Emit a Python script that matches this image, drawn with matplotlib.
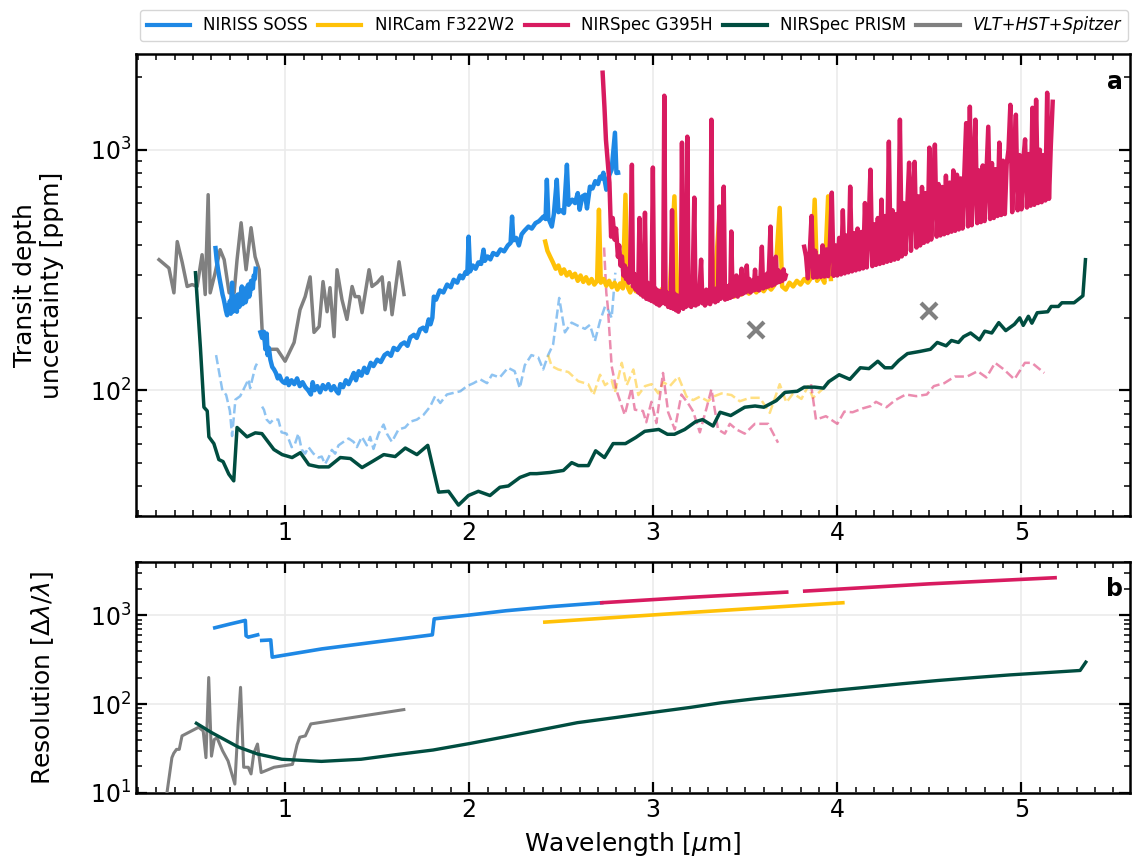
import numpy as np
import matplotlib
matplotlib.use("Agg")
import matplotlib.pyplot as plt
from matplotlib.lines import Line2D
from matplotlib.ticker import MultipleLocator, LogLocator, NullFormatter

# ---------------- colours ----------------
C_SOSS = "#1E88E5"
C_F322 = "#FFC107"
C_G395 = "#D81B60"
C_PRISM = "#004D40"
C_ARCH = "#808080"

# ---------------- panel a: transit depth uncertainty ----------------
arch_x = [0.315, 0.369, 0.396, 0.414, 0.441, 0.468, 0.495, 0.522, 0.549, 0.566, 0.582, 0.593, 0.620,
          0.647, 0.669, 0.696, 0.723, 0.739, 0.761, 0.788, 0.815, 0.837, 0.859, 0.875, 0.902, 0.919,
          0.957, 1.000, 1.049, 1.081, 1.109, 1.136, 1.157, 1.185, 1.206, 1.228, 1.244, 1.266, 1.282,
          1.309, 1.336, 1.364, 1.380, 1.402, 1.418, 1.456, 1.472, 1.500, 1.527, 1.543, 1.565, 1.581,
          1.619, 1.646]
arch_y = [349, 322, 254, 415, 340, 270, 275, 270, 366, 250, 650, 254, 308,
          384, 349, 254, 254, 349, 497, 317, 474, 359, 317, 179, 143, 148,
          148, 132, 158, 216, 245, 296, 174, 184, 283, 212, 267, 167, 317,
          238, 197, 270, 245, 245, 210, 317, 270, 280, 296, 216, 280, 206,
          342, 250]

spitzer_x = [3.56, 4.50]
spitzer_y = [178, 214]

soss2_x = [0.622, 0.628, 0.635, 0.641, 0.648, 0.654, 0.660, 0.666, 0.672, 0.678, 0.685, 0.690,
           0.695, 0.700, 0.705, 0.712, 0.716, 0.720, 0.725, 0.730, 0.734, 0.738, 0.743, 0.747,
           0.751, 0.755, 0.760, 0.765, 0.769, 0.772, 0.776, 0.780, 0.785, 0.790, 0.795, 0.800,
           0.805, 0.810, 0.815, 0.820, 0.825, 0.830, 0.835, 0.840]
soss2_y = [390, 350, 320, 300, 280, 265, 250, 240, 228, 215, 205, 225,
           215, 235, 208, 280, 212, 240, 215, 245, 222, 212, 250, 240,
           222, 225, 255, 270, 228, 230, 265, 262, 232, 240, 270, 275,
           245, 255, 285, 280, 265, 300, 290, 320]

soss1_x = [0.866, 0.875, 0.885, 0.893, 0.900, 0.905, 0.912, 0.920, 0.930, 0.940, 0.950, 0.960,
           0.970, 0.980, 0.990, 1.000, 1.010, 1.020, 1.035, 1.050, 1.065, 1.080, 1.095, 1.110,
           1.125, 1.140, 1.150, 1.160, 1.175, 1.190, 1.205, 1.220, 1.235, 1.250, 1.265, 1.280,
           1.290, 1.300, 1.315, 1.330, 1.345, 1.360, 1.373, 1.385, 1.400, 1.415, 1.430, 1.445,
           1.465, 1.480, 1.500, 1.520, 1.540, 1.557, 1.575, 1.590, 1.610, 1.630, 1.648, 1.665,
           1.680, 1.700, 1.715, 1.733, 1.750, 1.765, 1.780, 1.790, 1.800, 1.808, 1.820, 1.840,
           1.860, 1.880, 1.900, 1.916, 1.935, 1.950, 1.965, 1.980, 1.990, 1.997, 2.005, 2.020,
           2.035, 2.050, 2.065, 2.078, 2.085, 2.100, 2.115, 2.130, 2.151, 2.170, 2.190, 2.210,
           2.225, 2.233, 2.240, 2.255, 2.270, 2.285, 2.300, 2.322, 2.340, 2.360, 2.380, 2.403,
           2.415, 2.422, 2.430, 2.449, 2.460, 2.476, 2.485, 2.500, 2.515, 2.531, 2.540, 2.548,
           2.560, 2.575, 2.590, 2.600, 2.615, 2.630, 2.640, 2.656, 2.670, 2.685, 2.700, 2.711,
           2.720, 2.729, 2.745, 2.760, 2.774, 2.792, 2.800, 2.809]
soss1_y = [174, 165, 175, 148, 172, 140, 150, 134, 125, 122, 118, 112,
           115, 110, 108, 107, 112, 105, 110, 106, 112, 104, 108, 103,
           100, 96, 108, 100, 104, 98, 105, 101, 106, 100, 104, 99,
           97, 106, 103, 110, 106, 112, 118, 110, 120, 115, 124, 118,
           130, 126, 134, 131, 140, 143, 139, 150, 147, 155, 158, 153,
           166, 170, 165, 179, 182, 176, 197, 188, 200, 245, 238, 260,
           255, 275, 268, 288, 280, 300, 292, 310, 305, 435, 312, 330,
           320, 340, 335, 384, 345, 360, 350, 372, 365, 385, 378, 400,
           410, 527, 420, 430, 400, 445, 460, 479, 470, 495, 505, 527,
           515, 750, 520, 479, 540, 750, 550, 560, 545, 866, 590, 602,
           620, 600, 660, 563, 640, 650, 570, 702, 690, 740, 720, 772,
           760, 802, 682, 780, 826, 1177, 800, 802]

f322_x = [2.413, 2.425, 2.440, 2.455, 2.470, 2.485, 2.500, 2.515, 2.530, 2.545, 2.560, 2.575,
          2.590, 2.605, 2.620, 2.635, 2.650, 2.665, 2.680, 2.695, 2.705, 2.715, 2.730, 2.745,
          2.760, 2.775, 2.790, 2.805, 2.820, 2.835, 2.849, 2.860, 2.875, 2.890, 2.905, 2.920,
          2.935, 2.950, 2.965, 2.980, 2.995, 3.010, 3.030, 3.050, 3.070, 3.090, 3.115, 3.130,
          3.150, 3.170, 3.190, 3.210, 3.230, 3.250, 3.270, 3.290, 3.310, 3.330, 3.363, 3.380,
          3.400, 3.420, 3.440, 3.460, 3.480, 3.500, 3.520, 3.540, 3.560, 3.580, 3.600, 3.620,
          3.640, 3.660, 3.687, 3.700, 3.720, 3.740, 3.760, 3.780, 3.800, 3.820, 3.840, 3.860,
          3.877, 3.890, 3.910, 3.930, 3.950, 3.965]
f322_y = [415, 380, 359, 340, 320, 330, 305, 318, 300, 310, 295, 305,
          285, 300, 282, 295, 278, 290, 275, 285, 563, 280, 290, 272,
          285, 268, 280, 262, 278, 265, 650, 270, 255, 275, 258, 268,
          250, 262, 255, 265, 250, 262, 252, 265, 250, 260, 640, 255,
          248, 262, 250, 258, 245, 255, 248, 260, 245, 255, 580, 250,
          240, 255, 245, 258, 250, 262, 252, 265, 255, 268, 258, 272,
          262, 275, 573, 270, 262, 280, 270, 285, 275, 290, 280, 295,
          620, 285, 300, 280, 640, 290]

nrs1_x = [2.725, 2.728, 2.735, 2.743, 2.752, 2.762, 2.771, 2.780, 2.790, 2.798, 2.808, 2.815,
          2.822, 2.830, 2.838, 2.845, 2.852, 2.860, 2.867, 2.874, 2.884, 2.890, 2.897, 2.904,
          2.911, 2.918, 2.925, 2.932, 2.939, 2.946, 2.955, 2.962, 2.969, 2.976, 2.983, 2.990,
          2.998, 3.005, 3.012, 3.019, 3.026, 3.033, 3.040, 3.047, 3.054, 3.060, 3.067, 3.074,
          3.081, 3.088, 3.095, 3.102, 3.109, 3.116, 3.123, 3.130, 3.137, 3.143, 3.150, 3.156,
          3.163, 3.170, 3.177, 3.185, 3.192, 3.199, 3.206, 3.213, 3.223, 3.230, 3.237, 3.244,
          3.251, 3.260, 3.267, 3.274, 3.281, 3.288, 3.295, 3.302, 3.309, 3.316, 3.323, 3.330,
          3.337, 3.344, 3.351, 3.359, 3.366, 3.373, 3.383, 3.390, 3.397, 3.404, 3.411, 3.418,
          3.424, 3.431, 3.438, 3.445, 3.452, 3.459, 3.466, 3.473, 3.480, 3.487, 3.494, 3.501,
          3.508, 3.515, 3.522, 3.529, 3.536, 3.545, 3.553, 3.560, 3.567, 3.575, 3.583, 3.590,
          3.597, 3.604, 3.611, 3.618, 3.625, 3.637, 3.644, 3.651, 3.658, 3.666, 3.673, 3.680,
          3.687, 3.694, 3.701, 3.708, 3.715, 3.720]
nrs1_y = [2090, 1900, 1500, 1100, 900, 729, 435, 520, 423, 470, 359, 400,
          330, 360, 300, 330, 290, 320, 280, 310, 866, 270, 305, 262,
          300, 255, 520, 250, 290, 245, 547, 240, 280, 238, 270, 235,
          843, 232, 265, 228, 260, 225, 258, 230, 262, 1677, 228, 255,
          222, 250, 220, 560, 218, 252, 215, 248, 212, 245, 220, 1070,
          218, 250, 222, 1133, 225, 255, 222, 250, 632, 225, 255, 228,
          260, 349, 230, 258, 225, 262, 230, 255, 228, 1333, 235, 262,
          232, 265, 235, 580, 240, 268, 702, 238, 270, 240, 272, 242,
          457, 245, 275, 248, 300, 245, 278, 250, 320, 252, 282, 255,
          330, 258, 290, 255, 285, 260, 317, 262, 292, 260, 300, 395,
          265, 300, 268, 305, 270, 479, 272, 310, 275, 359, 280, 315,
          282, 310, 285, 318, 290, 300]

nrs2_x = [3.82, 3.83, 3.84, 3.85, 3.86, 3.87, 3.88, 3.89, 3.90, 3.91, 3.92, 3.93,
          3.94, 3.95, 3.96, 3.97, 3.98, 3.99, 4.00, 4.01, 4.02, 4.03, 4.04, 4.05,
          4.06, 4.07, 4.08, 4.09, 4.10, 4.11, 4.12, 4.13, 4.14, 4.15, 4.16, 4.17,
          4.18, 4.19, 4.20, 4.21, 4.22, 4.23, 4.24, 4.25, 4.26, 4.27, 4.28, 4.29,
          4.30, 4.31, 4.32, 4.33, 4.34, 4.35, 4.36, 4.37, 4.38, 4.39, 4.40, 4.41,
          4.42, 4.43, 4.44, 4.45, 4.46, 4.47, 4.48, 4.49, 4.50, 4.51, 4.52, 4.53,
          4.54, 4.55, 4.56, 4.57, 4.58, 4.59, 4.60, 4.61, 4.62, 4.63, 4.64, 4.65,
          4.66, 4.67, 4.68, 4.69, 4.70, 4.71, 4.72, 4.73, 4.74, 4.75, 4.76, 4.77,
          4.78, 4.79, 4.80, 4.81, 4.82, 4.83, 4.84, 4.85, 4.86, 4.87, 4.88, 4.89,
          4.90, 4.91, 4.92, 4.93, 4.94, 4.95, 4.96, 4.97, 4.98, 4.99, 5.00, 5.01,
          5.02, 5.03, 5.04, 5.05, 5.06, 5.07, 5.08, 5.09, 5.10, 5.11, 5.12, 5.13,
          5.14, 5.15, 5.16, 5.17]
nrs2_y = [395, 360, 292, 370, 530, 294, 380, 295, 360, 296, 400, 297,
          385, 298, 410, 663, 299, 400, 300, 430, 303, 560, 306, 440,
          309, 702, 312, 450, 315, 470, 318, 455, 321, 600, 324, 480,
          826, 328, 490, 332, 520, 335, 620, 338, 530, 342, 1080, 345,
          560, 349, 540, 352, 1333, 360, 600, 368, 580, 883, 380, 620,
          890, 392, 640, 400, 700, 410, 660, 415, 1020, 423, 690, 1050,
          435, 720, 440, 700, 445, 780, 450, 730, 456, 820, 460, 787,
          466, 760, 470, 800, 1290, 480, 1509, 485, 780, 1333, 495, 820,
          500, 860, 505, 800, 1246, 515, 880, 520, 830, 530, 1070, 535,
          900, 540, 870, 1000, 1537, 550, 920, 1398, 560, 950, 565, 900,
          1104, 575, 960, 585, 1494, 590, 1614, 600, 1000, 605, 950, 615,
          1725, 625, 1050, 1582]

prism_x = [0.513, 0.540, 0.559, 0.577, 0.586, 0.613, 0.640, 0.663, 0.694, 0.721, 0.739, 0.793,
           0.838, 0.874, 0.939, 0.984, 1.038, 1.083, 1.129, 1.183, 1.237, 1.300, 1.355, 1.418,
           1.473, 1.536, 1.598, 1.653, 1.716, 1.775, 1.834, 1.888, 1.942, 1.996, 2.050, 2.113,
           2.167, 2.213, 2.276, 2.331, 2.367, 2.439, 2.512, 2.557, 2.593, 2.647, 2.687, 2.735,
           2.782, 2.849, 2.905, 2.954, 3.030, 3.077, 3.115, 3.171, 3.230, 3.268, 3.325, 3.363,
           3.421, 3.497, 3.553, 3.601, 3.668, 3.716, 3.782, 3.820, 3.877, 3.925, 3.953, 4.010,
           4.068, 4.125, 4.172, 4.220, 4.258, 4.296, 4.334, 4.381, 4.449, 4.506, 4.543, 4.591,
           4.620, 4.658, 4.686, 4.724, 4.772, 4.801, 4.839, 4.877, 4.915, 4.962, 4.991, 5.010,
           5.038, 5.057, 5.086, 5.143, 5.162, 5.201, 5.220, 5.286, 5.334, 5.348]
prism_y = [308, 150, 85, 82, 64, 60, 51.5, 50.5, 44.8, 42, 70, 64,
           66.5, 66, 56.7, 54, 52.5, 55, 49, 48, 48, 52.5, 52, 47.7,
           50.5, 54, 53, 57.5, 54, 59, 37.7, 38, 33.3, 36.5, 38, 36.5,
           39.5, 40, 43.4, 45, 45, 45.5, 46.4, 50, 48.6, 48.6, 56, 52.5,
           60, 60, 63.6, 67.5, 68.7, 65.6, 65.6, 68.7, 74, 75.5, 71, 81,
           78.5, 85, 86, 85, 90.5, 98, 99, 103, 103, 102, 108.5, 116,
           111, 124, 123, 132, 124, 124, 133, 142, 145, 148, 158, 153,
           161, 158, 167, 173, 162, 176, 173, 191, 177, 188, 200, 186,
           203, 190, 210, 212, 223, 223, 231, 231, 247, 349]

# binned (dashed) curves
soss2b_x = [0.625, 0.658, 0.680, 0.700, 0.712, 0.730, 0.756, 0.783, 0.801, 0.810, 0.838, 0.847]
soss2b_y = [140, 101, 95.5, 82, 64.5, 91.4, 94.5, 104, 111, 102, 125, 129]

soss1b_x = [0.875, 0.885, 0.900, 0.918, 0.936, 0.963, 0.981, 1.008, 1.036, 1.054, 1.072, 1.090,
            1.109, 1.127, 1.154, 1.181, 1.199, 1.217, 1.236, 1.254, 1.272, 1.290, 1.317, 1.345,
            1.372, 1.390, 1.417, 1.444, 1.462, 1.480, 1.508, 1.535, 1.553, 1.580, 1.616, 1.652,
            1.680, 1.716, 1.752, 1.788, 1.815, 1.843, 1.879, 1.915, 1.952, 1.988, 2.024, 2.060,
            2.097, 2.124, 2.166, 2.211, 2.247, 2.275, 2.302, 2.338, 2.375, 2.402, 2.429, 2.456,
            2.489, 2.520, 2.556, 2.593, 2.629, 2.656, 2.683, 2.710, 2.738, 2.756, 2.774, 2.794]
soss1b_y = [85.5, 83, 75.5, 73, 75.5, 75.5, 66.8, 66, 58, 60, 66, 56.7,
            54.5, 58, 54.5, 52.5, 53, 49.3, 52.5, 56.5, 54.5, 59, 61, 63,
            61, 58, 64, 59, 64, 57, 66, 72, 66, 61, 68.7, 70,
            74, 75.5, 79, 85.5, 94.5, 88.5, 96, 97.5, 99, 104, 107, 111,
            107, 116, 113, 124, 120, 102, 127, 140, 137, 122, 140, 155,
            242, 174, 191, 185, 180, 187, 160, 193, 223, 215, 200, 308]

f322b_x = [2.429, 2.448, 2.484, 2.539, 2.593, 2.647, 2.675, 2.711, 2.738, 2.774, 2.792, 2.829,
           2.856, 2.892, 2.919, 2.955, 2.991, 3.027, 3.054, 3.090, 3.136, 3.181, 3.217, 3.253,
           3.298, 3.325, 3.371, 3.425, 3.470, 3.525, 3.579, 3.633, 3.687, 3.723, 3.760, 3.805,
           3.841, 3.868, 3.913, 3.958]
f322b_y = [140, 126, 122, 119, 109, 106, 95.5, 116, 105, 110, 98, 130,
           105, 122, 95.5, 104, 106, 97, 108, 104, 114, 94, 91, 94,
           90, 94, 97, 95.5, 90, 93, 93, 80.5, 106, 89, 97, 92,
           104, 93, 100, 108]

g395b_x = [2.733, 2.745, 2.753, 2.774, 2.800, 2.845, 2.882, 2.900, 2.944, 2.962, 2.990, 3.017,
           3.053, 3.081, 3.117, 3.153, 3.190, 3.217, 3.253, 3.289, 3.316, 3.352, 3.389, 3.416,
           3.452, 3.497, 3.552, 3.624, 3.678, np.nan,
           3.857, 3.884, 3.938, 4.000, 4.038, 4.083, 4.137, 4.183, 4.210, 4.267, 4.315, 4.372,
           4.429, 4.486, 4.524, 4.581, 4.638, 4.705, 4.762, 4.810, 4.857, 4.905, 4.962, 5.019,
           5.057, 5.124]
g395b_y = [392, 254, 223, 126, 100, 79, 102, 83, 82, 73.6, 89.5, 73,
           118, 81, 68.7, 96, 88, 81.5, 66.8, 84, 101, 68.7, 66, 72.5,
           68.7, 66, 72.5, 72.5, 60.5, np.nan,
           106, 75.5, 78, 72.5, 81.5, 81, 84, 86, 89.5, 85, 91, 96,
           94.5, 96, 104, 107, 114, 114, 120, 113, 130, 122, 111, 130,
           130, 118]

# ---------------- panel b: resolution ----------------
soss_res_x = [0.618, 0.700, 0.784, 0.788, 0.800, 0.851, np.nan, 0.873, 0.922, 0.930, 1.200, 1.500,
              1.800, 1.810, 2.000, 2.200, 2.450, 2.720]
soss_res_y = [726, 800, 879, 590, 570, 605, np.nan, 523, 530, 339, 420, 505,
              605, 916, 1010, 1130, 1260, 1390]

g395_res_x = [2.720, 3.200, 3.725, np.nan, 3.823, 4.500, 5.183]
g395_res_y = [1390, 1600, 1832, np.nan, 1880, 2270, 2660]

f322_res_x = [2.411, 3.200, 4.030]
f322_res_y = [841, 1080, 1390]

prism_res_x = [0.518, 0.600, 0.745, 0.850, 0.982, 1.197, 1.413, 1.600, 1.804, 2.000, 2.196, 2.400,
               2.588, 2.800, 2.979, 3.200, 3.371, 3.550, 3.763, 3.950, 4.154, 4.350, 4.546, 4.750,
               4.938, 5.150, 5.319, 5.350]
prism_res_y = [61, 48, 33, 27.5, 24, 22.7, 24, 27, 30.5, 36, 43, 52,
               62, 71, 80, 92, 104, 115, 128, 141, 155, 170, 185, 200,
               214, 228, 240, 298]

arch_res_x = [0.355, 0.385, 0.395, 0.410, 0.425, 0.440, 0.530, 0.555, 0.570, 0.585, 0.600, 0.615,
              0.630, 0.660, 0.690, 0.727, 0.745, 0.758, 0.775, 0.800, 0.815, 0.830, 0.850, 0.870,
              0.940, 1.040, 1.065, 1.080, 1.110, 1.140, 1.645]
arch_res_y = [9, 25, 28, 31, 31, 44, 55, 50, 25, 200, 26, 40,
              42, 30, 23, 12.6, 60, 155, 19.5, 19.5, 16.4, 28, 35.6, 17,
              19.5, 21, 35, 42.5, 44, 60, 87]

legend_labels = ["NIRISS SOSS", "NIRCam F322W2", "NIRSpec G395H", "NIRSpec PRISM", "VLT+HST+Spitzer"]

# ---------------- figure ----------------
fig = plt.figure(figsize=(11.32, 8.68), dpi=100)
W, H = 1132, 868
ax1 = fig.add_axes([136 / W, 1 - 516 / H, (1130 - 136) / W, (516 - 54) / H])
ax2 = fig.add_axes([136 / W, 1 - 793 / H, (1130 - 136) / W, (793 - 562) / H])

LW_DATA = 3.2
ALPHA_B = 0.5
LW_B = 1.8

# dashed binned lines
ax1.plot(soss2b_x, soss2b_y, ls="--", color=C_SOSS, alpha=ALPHA_B, lw=LW_B, zorder=2)
ax1.plot(soss1b_x, soss1b_y, ls="--", color=C_SOSS, alpha=ALPHA_B, lw=LW_B, zorder=2)
ax1.plot(f322b_x, f322b_y, ls="--", color=C_F322, alpha=ALPHA_B, lw=LW_B, zorder=2)
ax1.plot(g395b_x, g395b_y, ls="--", color=C_G395, alpha=ALPHA_B, lw=LW_B, zorder=2)

ax1.plot(arch_x, arch_y, color=C_ARCH, lw=2.5, zorder=3)
ax1.plot(spitzer_x, spitzer_y, ls="none", marker="x", ms=11, mew=3, color=C_ARCH, zorder=3)
ax1.plot(soss2_x, soss2_y, color=C_SOSS, lw=LW_DATA, zorder=4)
ax1.plot(soss1_x, soss1_y, color=C_SOSS, lw=LW_DATA, zorder=4)
ax1.plot(f322_x, f322_y, color=C_F322, lw=LW_DATA, zorder=5)
ax1.plot(nrs1_x, nrs1_y, color=C_G395, lw=LW_DATA, zorder=6)
ax1.plot(nrs2_x, nrs2_y, color=C_G395, lw=LW_DATA, zorder=6)
ax1.plot(prism_x, prism_y, color=C_PRISM, lw=2.5, zorder=7)

ax2.plot(arch_res_x, arch_res_y, color=C_ARCH, lw=2.2, zorder=3)
ax2.plot(soss_res_x, soss_res_y, color=C_SOSS, lw=2.6, zorder=4)
ax2.plot(f322_res_x, f322_res_y, color=C_F322, lw=2.6, zorder=4)
ax2.plot(g395_res_x, g395_res_y, color=C_G395, lw=2.6, zorder=5)
ax2.plot(prism_res_x, prism_res_y, color=C_PRISM, lw=2.4, zorder=6)

for ax in (ax1, ax2):
    ax.set_yscale("log")
    ax.set_xlim(0.19, 5.59)
    ax.xaxis.set_major_locator(MultipleLocator(1))
    ax.xaxis.set_minor_locator(MultipleLocator(0.1))
    ax.yaxis.set_minor_locator(LogLocator(base=10, subs=np.arange(2, 10)))
    ax.yaxis.set_minor_formatter(NullFormatter())
    ax.tick_params(which="both", direction="in", top=True, right=True, labelsize=17)
    ax.tick_params(which="major", length=8, width=1.6)
    ax.tick_params(which="minor", length=4, width=1.1)
    ax.grid(True, which="major", color="#ebebeb", lw=1.2, zorder=0)
    ax.set_axisbelow(True)
    for s in ax.spines.values():
        s.set_linewidth(1.8)

ax1.set_ylim(30, 2500)
ax2.set_ylim(10, 4000)

ax1.set_ylabel("Transit depth\nuncertainty [ppm]", fontsize=18)
ax2.set_ylabel(r"Resolution [$\Delta\lambda/\lambda$]", fontsize=18)
ax2.set_xlabel(r"Wavelength [$\mu$m]", fontsize=18, labelpad=6)
ax1.yaxis.set_label_coords(-0.072, 0.5)
ax2.yaxis.set_label_coords(-0.08, 0.5)

ax1.text(0.993, 0.965, "a", transform=ax1.transAxes, ha="right", va="top",
         fontsize=17, fontweight="bold")
ax2.text(0.993, 0.935, "b", transform=ax2.transAxes, ha="right", va="top",
         fontsize=17, fontweight="bold")

handles = [Line2D([], [], color=c, lw=3) for c in (C_SOSS, C_F322, C_G395, C_PRISM, C_ARCH)]
leg = fig.legend(handles, legend_labels, loc="lower left", ncol=5, mode="expand",
                 bbox_to_anchor=(140 / W, 1 - 41 / H, (1128 - 140) / W, 36 / H),
                 fontsize=12, handlelength=2.6, frameon=True, fancybox=True,
                 edgecolor="#cccccc", borderaxespad=0.0)
leg.get_texts()[4].set_fontstyle("italic")

fig.savefig("out.png", dpi=100)
